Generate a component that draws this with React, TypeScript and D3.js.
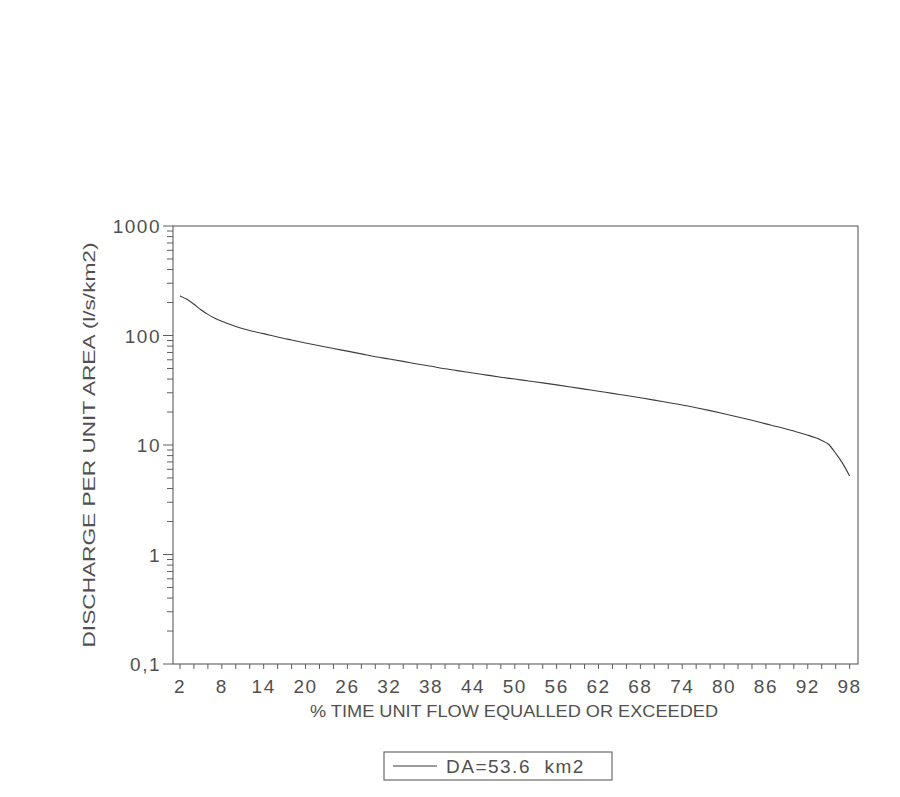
import React from "react";
import * as d3 from "d3";

// Flow duration curve: percent of time a unit flow is equalled or exceeded
const percentTime: number[] = [
  2, 3, 4, 5, 6, 7, 8, 10, 12, 14, 16, 18, 20, 22, 24, 26, 28, 30, 32, 34, 36,
  38, 40, 42, 44, 46, 48, 50, 52, 54, 56, 58, 60, 62, 64, 66, 68, 70, 72, 74,
  76, 78, 80, 82, 84, 86, 88, 90, 92, 93, 94, 95, 96, 97, 98,
];
// Discharge per unit area (l/s/km2)
const unitDischarge: number[] = [
  230, 214, 193, 172, 156, 144, 135, 121, 111, 104, 97, 91, 85.5, 80.5, 76,
  72, 68, 64, 61, 58, 55, 52.3, 49.7, 47.5, 45.5, 43.5, 41.6, 40, 38.4, 36.9,
  35.4, 33.9, 32.4, 31, 29.6, 28.3, 27, 25.7, 24.4, 23.2, 21.9, 20.6, 19.3,
  18, 16.8, 15.6, 14.5, 13.4, 12.3, 11.7, 11.0, 10.1, 8.4, 6.8, 5.2,
];

const xTickLabels: number[] = [2, 8, 14, 20, 26, 32, 38, 44, 50, 56, 62, 68, 74, 80, 86, 92, 98];
const yTickValues: number[] = [0.1, 1, 10, 100, 1000];
const yTickText: string[] = ["0,1", "1", "10", "100", "1000"];
const legendLabel = "DA=53.6  km2";
const xTitle = "% TIME UNIT FLOW EQUALLED OR EXCEEDED";
const yTitle = "DISCHARGE PER UNIT AREA (l/s/km2)";

const W = 900;
const H = 797;
const plot = { left: 173, right: 858, top: 226, bottom: 664 };

const FONT = "'Liberation Sans', Arial, sans-serif";
const AXIS = "#5e5e5e";
const TEXT = "#505050";

export default function App() {
  const x = d3.scaleLinear().domain([1, 99.2]).range([plot.left, plot.right]);
  const y = d3.scaleLog().domain([0.1, 1000]).range([plot.bottom, plot.top]);

  const line = d3
    .line<number>()
    .x((_, i) => x(percentTime[i]))
    .y((d) => y(d))
    .curve(d3.curveMonotoneX);

  const minorX = d3.range(2, 99, 2);
  const minorY: number[] = [];
  for (let e = -1; e < 3; e++) {
    for (let m = 2; m <= 9; m++) minorY.push(m * Math.pow(10, e));
  }

  return (
    <svg
      width={W}
      height={H}
      viewBox={`0 0 ${W} ${H}`}
      style={{ position: "absolute", left: 0, top: 0, background: "#fff" }}
    >
      <rect x={0} y={0} width={W} height={H} fill="#fff" />

      {/* frame */}
      <rect
        x={plot.left}
        y={plot.top}
        width={plot.right - plot.left}
        height={plot.bottom - plot.top}
        fill="none"
        stroke={AXIS}
        strokeWidth={1.1}
      />

      {/* x ticks */}
      {minorX.map((v) => (
        <line
          key={`xt${v}`}
          x1={x(v)}
          x2={x(v)}
          y1={plot.bottom}
          y2={plot.bottom + 5}
          stroke={AXIS}
          strokeWidth={1}
        />
      ))}
      {xTickLabels.map((v) => (
        <text
          key={`xl${v}`}
          x={x(v)}
          y={693}
          textAnchor="middle"
          fontFamily={FONT}
          fontSize={19}
          letterSpacing={1.5}
          fill={TEXT}
        >
          {v}
        </text>
      ))}

      {/* y ticks */}
      {minorY.map((v) => (
        <line
          key={`ym${v}`}
          x1={plot.left - 6}
          x2={plot.left}
          y1={y(v)}
          y2={y(v)}
          stroke={AXIS}
          strokeWidth={1}
        />
      ))}
      {yTickValues.map((v, i) => (
        <g key={`yl${v}`}>
          <line
            x1={plot.left - 10}
            x2={plot.left}
            y1={y(v)}
            y2={y(v)}
            stroke={AXIS}
            strokeWidth={1}
          />
          <text
            x={161}
            y={y(v) + 7}
            textAnchor="end"
            fontFamily={FONT}
            fontSize={19}
            letterSpacing={1.5}
            fill={TEXT}
          >
            {yTickText[i]}
          </text>
        </g>
      ))}

      {/* axis titles */}
      <text
        x={514}
        y={717}
        textAnchor="middle"
        fontFamily={FONT}
        fontSize={16}
        textLength={408}
        lengthAdjust="spacingAndGlyphs"
        fill={TEXT}
      >
        {xTitle}
      </text>
      <text
        transform={`translate(95, 445) rotate(-90)`}
        textAnchor="middle"
        fontFamily={FONT}
        fontSize={16}
        textLength={405}
        lengthAdjust="spacingAndGlyphs"
        fill={TEXT}
      >
        {yTitle}
      </text>

      {/* curve */}
      <path
        d={line(unitDischarge) ?? ""}
        fill="none"
        stroke="#3c3c3c"
        strokeWidth={1.1}
      />

      {/* legend */}
      <rect x={384} y={752} width={228} height={28} fill="#fff" stroke={AXIS} strokeWidth={1.1} />
      <line x1={393} x2={437} y1={766} y2={766} stroke="#3c3c3c" strokeWidth={1.1} />
      <text
        x={446}
        y={773}
        fontFamily={FONT}
        fontSize={19}
        letterSpacing={1.5}
        fill={TEXT}
        style={{ whiteSpace: "pre" }}
      >
        {legendLabel}
      </text>
    </svg>
  );
}
